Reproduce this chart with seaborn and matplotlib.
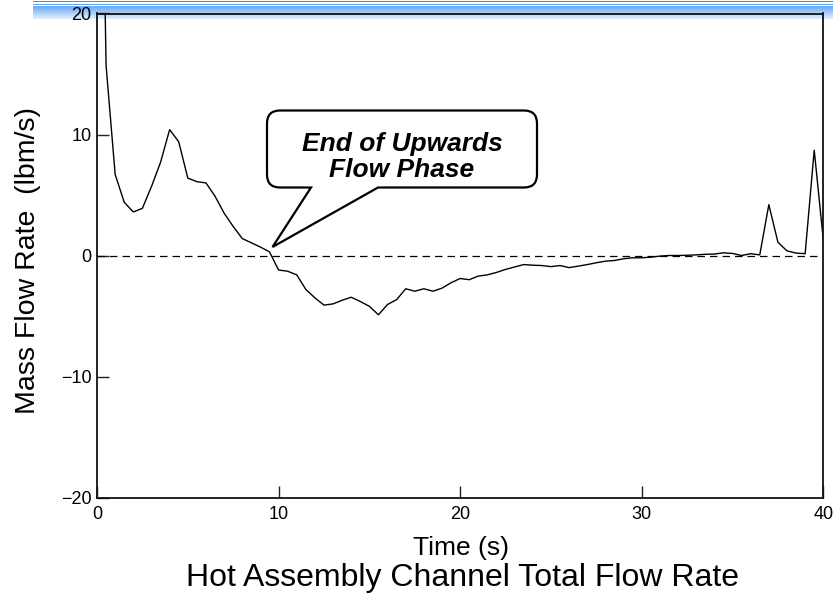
import numpy as np
import pandas as pd
import matplotlib
matplotlib.use("Agg")
import matplotlib.pyplot as plt
import seaborn as sns
from matplotlib.path import Path
from matplotlib.patches import PathPatch, Rectangle
from matplotlib.transforms import Affine2D

# ---------------- data ----------------
time_s = [0.0, 0.5, 1.0, 1.5, 2.0, 2.5, 3.0, 3.5, 4.0, 4.5, 5.0, 5.5, 6.0, 6.5, 7.0,
          7.5, 8.0, 8.5, 9.0, 9.5, 10.0, 10.5, 11.0, 11.5, 12.0, 12.5, 13.0, 13.5,
          14.0, 14.5, 15.0, 15.5, 16.0, 16.5, 17.0, 17.5, 18.0, 18.5, 19.0, 19.5,
          20.0, 20.5, 21.0, 21.5, 22.0, 22.5, 23.0, 23.5, 24.0, 24.5, 25.0, 25.5,
          26.0, 26.5, 27.0, 27.5, 28.0, 28.5, 29.0, 29.5, 30.0, 30.5, 31.0, 31.5,
          32.0, 32.5, 33.0, 33.5, 34.0, 34.5, 35.0, 35.5, 36.0, 36.5, 37.0, 37.5,
          38.0, 38.5, 39.0, 39.5, 40.0]
mass_flow = [60.0, 15.7, 6.7, 4.4, 3.6, 3.9, 5.7, 7.7, 10.4, 9.4, 6.4, 6.1, 6.0, 4.9, 3.5,
             2.4, 1.4, 1.05, 0.7, 0.3, -1.2, -1.3, -1.6, -2.8, -3.5, -4.1, -4.0, -3.7,
             -3.45, -3.8, -4.2, -4.9, -4.05, -3.65, -2.75, -2.95, -2.75, -2.95, -2.7, -2.25,
             -1.9, -2.0, -1.7, -1.6, -1.4, -1.15, -0.95, -0.75, -0.8, -0.83, -0.92, -0.83,
             -1.0, -0.88, -0.75, -0.6, -0.47, -0.41, -0.27, -0.19, -0.19, -0.14, -0.05, 0.0,
             0.0, 0.02, 0.05, 0.1, 0.12, 0.22, 0.17, 0.0, 0.15, 0.05, 4.2, 1.1,
             0.38, 0.2, 0.15, 8.7, 1.3]
x_ticks = [0, 10, 20, 30, 40]
y_ticks = [-20, -10, 0, 10, 20]
x_label = "Time (s)"
y_label = "Mass Flow Rate  (lbm/s)"
title = "Hot Assembly Channel Total Flow Rate"
callout = "End of Upwards\nFlow Phase"

df = pd.DataFrame({"time": time_s, "flow": mass_flow})

# ---------------- style ----------------
sns.set_theme(style="white")
plt.rcParams["font.family"] = ["Liberation Sans", "DejaVu Sans"]
plt.rcParams["axes.unicode_minus"] = True
plt.rcParams["text.color"] = "black"
plt.rcParams["axes.labelcolor"] = "black"
plt.rcParams["xtick.bottom"] = True
plt.rcParams["ytick.left"] = True

W, H = 833, 595
fig = plt.figure(figsize=(W / 100, H / 100), dpi=100)
fig.patch.set_facecolor("white")

# header decoration (blue lines + gradient band)
px = Affine2D().scale(1, -1).translate(0, H)
fig.add_artist(Rectangle((33, 0.8), W - 33, 1.4, transform=px, color="#3f93f2", lw=0, zorder=0))
fig.add_artist(Rectangle((33, 3.8), W - 33, 1.4, transform=px, color="#55a6f6", lw=0, zorder=0))
hax = fig.add_axes([33 / W, 1 - 19.5 / H, 1 - 33 / W, 13.5 / H], zorder=0)
grad = np.linspace(0, 1, 64).reshape(-1, 1)
cmap = matplotlib.colors.LinearSegmentedColormap.from_list("hdr", ["#5ea3f2", "#e4effc"])
hax.imshow(grad, aspect="auto", cmap=cmap, extent=[0, 1, 0, 1], origin="upper")
hax.set_axis_off()

# main axes
L, R, T, B = 97, 823.3, 13.5, 497.5
ax = fig.add_axes([L / W, 1 - B / H, (R - L) / W, (B - T) / H], zorder=1)
ax.set_facecolor("none")

sns.lineplot(data=df, x="time", y="flow", ax=ax, color="black", linewidth=1.0,
             estimator=None, sort=False)
ax.axhline(0, color="black", linewidth=0.9, linestyle=(0, (6, 4)), zorder=1)

ax.set_xlim(0, 40)
ax.set_ylim(-20, 20)
ax.set_xticks(x_ticks)
ax.set_yticks(y_ticks)
ax.tick_params(axis="both", which="major", direction="in", length=8.5, width=1.0,
               color="#222222", labelsize=13, labelcolor="black", top=False,
               right=False, bottom=True, left=True)
ax.tick_params(axis="x", pad=6)
ax.tick_params(axis="y", pad=4)
for s in ax.spines.values():
    s.set_color("#111111")
    s.set_linewidth(1.3)
ax.set_xlabel("")
ax.set_ylabel("")

fig.text(461 / W, 1 - 548 / H, x_label, ha="center", va="center", fontsize=19)
fig.text(28 / W, 1 - 260 / H, y_label, ha="center", va="center", rotation=90, fontsize=20.5)
fig.text(462 / W, 1 - 578 / H, title, ha="center", va="center", fontsize=23)

# callout bubble
l, r, t, b, rad = 267, 537, 110.5, 187.5, 13
tipx, tipy = 272.5, 247
verts = [(311, b), (tipx, tipy), (378, b), (r - rad, b), (r, b), (r, b - rad),
         (r, t + rad), (r, t), (r - rad, t), (l + rad, t), (l, t), (l, t + rad),
         (l, b - rad), (l, b), (l + rad, b), (311, b)]
codes = [Path.MOVETO, Path.LINETO, Path.LINETO, Path.LINETO, Path.CURVE3, Path.CURVE3,
         Path.LINETO, Path.CURVE3, Path.CURVE3, Path.LINETO, Path.CURVE3, Path.CURVE3,
         Path.LINETO, Path.CURVE3, Path.CURVE3, Path.CLOSEPOLY]
fig.add_artist(PathPatch(Path(verts, codes), transform=px, facecolor="white",
                         edgecolor="black", linewidth=1.6, zorder=5, joinstyle="miter"))
fig.text(402 / W, 1 - 157 / H, callout, ha="center", va="center", fontsize=19,
         fontweight="bold", fontstyle="italic", linespacing=1.1, zorder=6)

fig.savefig("out.png", dpi=100)
